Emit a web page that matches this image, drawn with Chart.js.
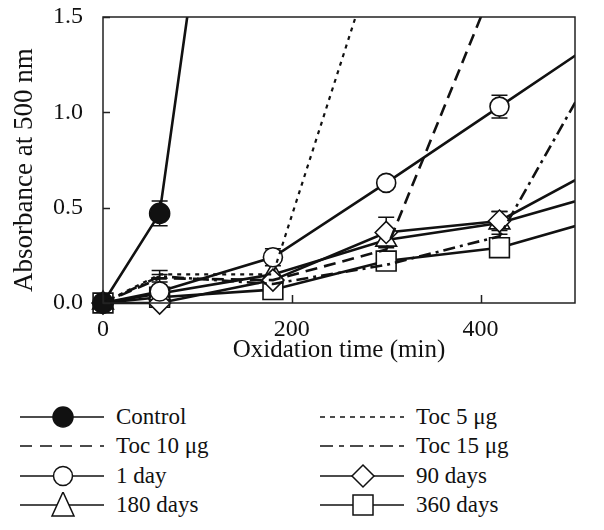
<!DOCTYPE html>
<html>
<head>
<meta charset="utf-8">
<script src="https://cdn.jsdelivr.net/npm/chart.js@4.4.0/dist/chart.umd.min.js"></script>
<style>
body { margin: 0; background: #fff; }
#wrap { position: relative; width: 604px; height: 530px; font-family: "Liberation Serif", "Times New Roman", serif; }
#c { position: absolute; left: 0; top: 0; }
.item { position: absolute; display: flex; align-items: center; height: 26px; font-size: 23px; color: #111; white-space: nowrap; }
.item svg { margin-right: 10px; }
</style>
</head>
<body>
<div id="wrap">
  <canvas id="c" width="604" height="370"></canvas>
  <div id="legend"></div>
</div>
<script>
// Oxidation time points (min)
const times = [0, 60, 180, 300, 420, 540];

// Absorbance at 500 nm, one array per series (aligned with times)
const control = [0, 0.47, 4.7];
const toc5 = [0, 0.15, 0.15, 2.0];
const toc10 = [0, 0.13, 0.12, 0.28, 1.74];
const toc15 = [0, 0.14, 0.10, 0.20, 0.35, 1.40];
const day1 = [0, 0.06, 0.24, 0.63, 1.03, 1.43];
const days90 = [0, 0.0, 0.12, 0.37, 0.43, 0.75];
const days180 = [0, 0.05, 0.15, 0.33, 0.42, 0.59];
const days360 = [0, 0.03, 0.07, 0.22, 0.29, 0.46];

// error bars (+/-), null where none is drawn
const controlErr = [null, 0.065];
const toc5Err = [null, 0.02];
const toc10Err = [null, 0.02];
const day1Err = [null, null, 0.045, null, 0.06];
const days90Err = [null, null, null, 0.08, 0.05];
const days180Err = [null, null, null, null, 0.06];
const days360Err = [null, null, null, null, 0.04];

const xTicks = [0, 200, 400];
const yTicks = [0, 0.5, 1.0, 1.5];

const ink = '#111';

function pts(vals) {
    return vals.map((v, i) => ({ x: times[i], y: v }));
}

function series(label, vals, errs, extra) {
    return Object.assign({
        label: label,
        data: pts(vals),
        errors: errs,
        borderColor: ink,
        borderWidth: 2.6,
        pointRadius: 0,
        pointBorderColor: ink,
        pointBackgroundColor: '#fff',
        pointBorderWidth: 1.6,
        tension: 0,
        clip: { left: 16, top: 0, right: 0, bottom: 16 },
    }, extra);
}

const datasets = [
    series('Toc 5 μg', toc5, toc5Err, { borderDash: [4, 5], borderWidth: 2.2 }),
    series('Toc 10 μg', toc10, toc10Err, { borderDash: [12, 7] }),
    series('Toc 15 μg', toc15, null, { borderDash: [12, 5, 3, 5] }),
    series('Control', control, controlErr, { pointRadius: 10, pointStyle: 'circle', pointBackgroundColor: ink }),
    series('1 day', day1, day1Err, { pointRadius: 9.5, pointStyle: 'circle' }),
    series('90 days', days90, days90Err, { pointRadius: 11, pointStyle: 'rectRot' }),
    series('180 days', days180, days180Err, { pointRadius: 12, pointStyle: 'triangle' }),
    series('360 days', days360, days360Err, { pointRadius: 14, pointStyle: 'rect' }),
];

// error bars drawn under the markers
const errorBars = {
    id: 'errorBars',
    beforeDatasetsDraw(chart) {
        const { ctx, scales: { x, y } } = chart;
        ctx.save();
        ctx.strokeStyle = ink;
        ctx.lineWidth = 1.5;
        chart.data.datasets.forEach(ds => {
            (ds.errors || []).forEach((e, i) => {
                if (e == null) return;
                const px = x.getPixelForValue(ds.data[i].x);
                const top = y.getPixelForValue(ds.data[i].y + e);
                const bot = y.getPixelForValue(ds.data[i].y - e);
                ctx.beginPath();
                ctx.moveTo(px, top); ctx.lineTo(px, bot);
                ctx.moveTo(px - 8, top); ctx.lineTo(px + 8, top);
                ctx.moveTo(px - 8, bot); ctx.lineTo(px + 8, bot);
                ctx.stroke();
            });
        });
        ctx.restore();
    }
};

// box frame and inward tick marks
const frame = {
    id: 'frame',
    afterDraw(chart) {
        const { ctx, chartArea: a, scales: { x, y } } = chart;
        ctx.save();
        ctx.strokeStyle = '#222';
        ctx.lineWidth = 1.5;
        ctx.strokeRect(a.left, a.top, a.right - a.left, a.bottom - a.top);
        ctx.beginPath();
        xTicks.forEach(t => {
            const px = Math.round(x.getPixelForValue(t)) + 0.5;
            ctx.moveTo(px, a.bottom); ctx.lineTo(px, a.bottom - 8);
        });
        yTicks.forEach(t => {
            const py = Math.round(y.getPixelForValue(t)) + 0.5;
            ctx.moveTo(a.left, py); ctx.lineTo(a.left + 7, py);
        });
        ctx.stroke();
        ctx.restore();
    }
};

const serif = '"Liberation Serif", "Times New Roman", serif';

new Chart(document.getElementById('c'), {
    type: 'line',
    data: { datasets: datasets },
    options: {
        responsive: false,
        animation: false,
        layout: { padding: { left: 0, right: 29, top: 17, bottom: 0 } },
        plugins: { legend: { display: false }, tooltip: { enabled: false } },
        scales: {
            x: {
                type: 'linear',
                min: 0,
                max: 500,
                afterFit(s) { s.height = 67; s.paddingLeft = 0; s.paddingRight = 0; },
                afterBuildTicks(s) { s.ticks = xTicks.map(v => ({ value: v })); },
                grid: { display: false, drawTicks: false },
                border: { display: false },
                ticks: { color: ink, padding: 12, maxRotation: 0, font: { family: serif, size: 24 } },
                title: { display: true, text: 'Oxidation time (min)', color: ink, padding: { top: 0, bottom: 5 }, font: { family: serif, size: 25 } },
            },
            y: {
                min: 0,
                max: 1.5,
                afterFit(s) { s.width = 103; s.paddingTop = 0; s.paddingBottom = 0; },
                afterBuildTicks(s) { s.ticks = yTicks.map(v => ({ value: v })); },
                grid: { display: false, drawTicks: false },
                border: { display: false },
                ticks: { color: ink, padding: 20, font: { family: serif, size: 24 }, callback: v => v.toFixed(1) },
                title: { display: true, text: 'Absorbance at 500 nm   ', color: ink, padding: { top: 9, bottom: 0 }, font: { family: serif, size: 27 } },
            },
        },
    },
    plugins: [errorBars, frame],
});

// legend: two columns with line samples
const legendItems = [
    { label: 'Control', col: 0, row: 0, dash: '', marker: 'filled' },
    { label: 'Toc 5 μg', col: 1, row: 0, dash: '5 5', marker: '' },
    { label: 'Toc 10 μg', col: 0, row: 1, dash: '12 8', marker: '' },
    { label: 'Toc 15 μg', col: 1, row: 1, dash: '13 6 5 6', marker: '' },
    { label: '1 day', col: 0, row: 2, dash: '', marker: 'circle' },
    { label: '90 days', col: 1, row: 2, dash: '', marker: 'diamond' },
    { label: '180 days', col: 0, row: 3, dash: '', marker: 'triangle' },
    { label: '360 days', col: 1, row: 3, dash: '', marker: 'square' },
];
const colX = [20, 320];
const rowY = [417, 446, 476, 505];

function markerSvg(m) {
    const s = 'stroke="#111" stroke-width="1.5"';
    if (m === 'filled') return `<circle cx="43" cy="13" r="10" fill="#111" ${s}/>`;
    if (m === 'circle') return `<circle cx="43" cy="13" r="9.5" fill="#fff" ${s}/>`;
    if (m === 'diamond') return `<polygon points="32,13 43,2 54,13 43,24" fill="#fff" ${s}/>`;
    if (m === 'triangle') return `<polygon points="43,0 54,24 32,24" fill="#fff" ${s}/>`;
    if (m === 'square') return `<rect x="33" y="3" width="20" height="20" fill="#fff" ${s}/>`;
    return '';
}

const legendEl = document.getElementById('legend');
legendItems.forEach(it => {
    const div = document.createElement('div');
    div.className = 'item';
    div.style.left = colX[it.col] + 'px';
    div.style.top = (rowY[it.row] - 13) + 'px';
    const dash = it.dash ? `stroke-dasharray="${it.dash}"` : '';
    div.innerHTML = `<svg width="86" height="26"><line x1="0" y1="13" x2="84" y2="13" stroke="#111" stroke-width="1.5" ${dash}/>${markerSvg(it.marker)}</svg><span>${it.label}</span>`;
    legendEl.appendChild(div);
});
</script>
</body>
</html>
